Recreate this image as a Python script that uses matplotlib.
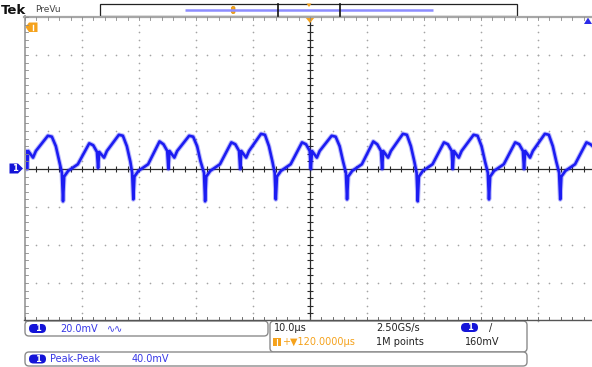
"""
Tek scope screenshot - CH1 ripple, 20 mV/div, 10 us/div
"""
import matplotlib
matplotlib.use("Agg")
import matplotlib.pyplot as plt
import numpy as np
from matplotlib.patches import FancyBboxPatch, Rectangle, Polygon

W, H = 592, 367

BLUE = "#1414d8"
TXT_BLUE = "#3636e6"
TRACE = "#1c1cf2"
ORANGE = "#f5a21c"
GRID = "#a4a4a4"
EDGE = "#a6a6a6"

# ── CH1 trace: time from left graticule edge (us), volts (mV)
t_us = [0.0, 0.16, 0.36, 0.56, 1.41, 1.91, 4.01, 4.71, 5.41, 6.01,
        6.47, 6.67, 6.87, 7.57, 9.27, 11.27, 11.97, 12.62, 12.82, 13.02, 13.87, 14.37, 16.47, 17.17, 17.87, 18.47,
        18.8, 19.0, 19.2, 19.9, 21.6, 23.6, 24.3, 24.95, 25.15, 25.35, 26.2, 26.7, 28.8, 29.5, 30.2, 30.8,
        31.4, 31.6, 31.8, 32.5, 34.2, 36.2, 36.9, 37.55, 37.75, 37.95, 38.8, 39.3, 41.4, 42.1, 42.8, 43.4,
        43.8, 44.0, 44.2, 44.9, 46.6, 48.6, 49.3, 49.95, 50.15, 50.35, 51.2, 51.7, 53.8, 54.5, 55.2, 55.8,
        56.3, 56.5, 56.7, 57.4, 59.1, 61.1, 61.8, 62.45, 62.65, 62.85, 63.7, 64.2, 66.3, 67.0, 67.7, 68.3,
        68.7, 68.9, 69.1, 69.8, 71.5, 73.5, 74.2, 74.85, 75.05, 75.25, 76.1, 76.6, 78.7, 79.4, 80.1, 80.7,
        81.2, 81.4, 81.6, 82.3, 84.0, 86.0, 86.7, 87.35, 87.55, 87.75, 88.6, 89.1, 91.2, 91.9, 92.6, 93.2,
        93.7, 93.9, 94.1, 94.8, 96.5, 98.5, 99.2, 99.6]
v_mv = [9.0, 9.5, 0.0, 9.5, 6.0, 9.5, 17.5, 17.0, 12.0, 4.0,
        -2, -17, -4, -1, 2.5, 13.5, 12.5, 9.0, 0.5, 9.0, 6.0, 9.5, 18.0, 17.5, 12.0, 4.0,
        -2, -16, -4, -1, 2.5, 14.5, 13.0, 9.5, 0.0, 9.5, 6.0, 9.5, 17.5, 17.0, 12.0, 4.0,
        -2, -17, -4, -1, 2.5, 14.0, 13.0, 9.5, 0.0, 9.5, 6.0, 9.5, 18.5, 18.0, 12.0, 4.0,
        -2, -16, -4, -1, 2.5, 14.0, 13.0, 9.5, 0.0, 9.5, 6.0, 9.5, 17.5, 17.0, 12.0, 4.0,
        -2, -16, -4, -1, 2.5, 14.5, 13.0, 9.5, 0.0, 9.5, 6.0, 9.5, 18.5, 18.0, 12.0, 4.0,
        -2, -17, -4, -1, 2.5, 14.0, 13.0, 9.5, 0.0, 9.5, 6.0, 9.5, 18.0, 17.5, 12.0, 4.0,
        -2, -16, -4, -1, 2.5, 14.0, 13.0, 9.5, 0.0, 9.5, 6.0, 9.5, 18.5, 18.0, 12.0, 4.0,
        -2, -16, -4, -1, 2.5, 14.0, 13.0, 12.0]

# scope settings shown in the readout
us_per_div = 10.0
mv_per_div = 20.0
n_xdiv, n_ydiv = 10, 8

fig = plt.figure(figsize=(W / 100, H / 100), dpi=100)
fig.patch.set_facecolor("white")

# graticule axes (right edge runs off the screenshot, as in the original)
gx0, gx1, gy0, gy1 = 25, 595, 17, 321
ax = fig.add_axes([gx0 / W, (H - gy1) / H, (gx1 - gx0) / W, (gy1 - gy0) / H])
ax.set_xlim(0, n_xdiv * us_per_div)
ax.set_ylim(-n_ydiv / 2 * mv_per_div, n_ydiv / 2 * mv_per_div)
ax.axis("off")

xmax = n_xdiv * us_per_div
ymax = n_ydiv / 2 * mv_per_div
xs_minor = np.arange(0, xmax + 0.01, us_per_div / 5)
ys_minor = np.arange(-ymax, ymax + 0.01, mv_per_div / 5)

# dotted division lines
for i in range(1, n_xdiv):
    if i == n_xdiv // 2:
        continue
    ax.plot(np.full_like(ys_minor, i * us_per_div), ys_minor, "o", ms=1.2,
            mew=0, color=GRID, clip_on=False)
for j in range(-n_ydiv // 2 + 1, n_ydiv // 2):
    if j == 0:
        continue
    ax.plot(xs_minor, np.full_like(xs_minor, j * mv_per_div), "o", ms=1.2,
            mew=0, color=GRID, clip_on=False)

# centre cross with minor ticks
ax.axhline(0, color="#2a2a2a", lw=0.9)
ax.axvline(xmax / 2, color="#2a2a2a", lw=0.9)
ax.plot(xs_minor, np.zeros_like(xs_minor), "|", ms=4, mew=0.8, color="#2a2a2a")
ax.plot(np.full_like(ys_minor, xmax / 2), ys_minor, "_", ms=4, mew=0.8, color="#2a2a2a")

# CH1 waveform (a soft halo mimics the noise band)
ax.plot(t_us, v_mv, color=TRACE, lw=3.4, alpha=0.3, solid_joinstyle="round")
ax.plot(t_us, v_mv, color=TRACE, lw=1.9, solid_joinstyle="round")

# ── overlay in pixel coordinates for the scope chrome
ov = fig.add_axes([0, 0, 1, 1], zorder=3)
ov.set_xlim(0, W)
ov.set_ylim(H, 0)
ov.axis("off")

# graticule frame
px_div = (gx1 - gx0) / n_xdiv
py_div = (gy1 - gy0) / n_ydiv
ov.plot([24, W], [16.5, 16.5], color=EDGE, lw=1.6)
ov.plot([24.5, 24.5], [16, 320], color=EDGE, lw=1.4)
ov.plot([24, W], [319.5, 319.5], color="#555555", lw=1.0)
tx = gx0 + np.arange(0, n_xdiv * 5 + 1) * px_div / 5
ty = gy0 + np.arange(0, n_ydiv * 5 + 1) * py_div / 5
for x in tx:
    ov.plot([x, x], [17, 19.5], color="#8a8a8a", lw=0.6)
    ov.plot([x, x], [316.5, 319.5], color="#555555", lw=0.6)
for y in ty:
    ov.plot([25, 27.5], [y, y], color="#8a8a8a", lw=0.6)

# header
ov.text(0.5, 10, "Tek", fontsize=9.5, fontweight="bold", color="#111111",
        va="center", ha="left")
ov.text(35, 10, "PreVu", fontsize=6.5, color="#444444", va="center", ha="left")

ov.add_patch(Rectangle((100, 4), 417, 12, fc="white", ec="#222222", lw=0.9))
ov.plot([185, 433], [10, 10], color="#8c8cff", lw=1.8, solid_capstyle="butt")
ov.plot([278, 278], [4, 16], color="#111111", lw=1.2)
ov.plot([340, 340], [4, 16], color="#111111", lw=1.2)
ov.add_patch(FancyBboxPatch((231.5, 6.5), 3.5, 7, boxstyle="round,pad=0,rounding_size=1.5",
                            fc=ORANGE, ec="#d98a00", lw=0.5))
ov.add_patch(Polygon([(306.5, 3.5), (311.5, 3.5), (309, 7)], fc=ORANGE, ec="none"))

# trigger position / trigger level markers
ov.add_patch(Polygon([(305, 17), (315, 17), (310, 23)], fc=ORANGE, ec="none"))
ov.add_patch(Polygon([(584, 24), (592, 24), (588, 17.5)], fc="#2a2ae8", ec="none"))
ov.add_patch(Polygon([(25.5, 27), (29, 22.5), (37.5, 22.5), (37.5, 32), (29, 32)],
                     fc=ORANGE, ec="none"))
ov.plot([33, 33], [24.5, 30], color="white", lw=1.0)

# CH1 ground marker
ov.add_patch(Polygon([(9.5, 163.5), (18, 163.5), (23, 168.5), (18, 173.5), (9.5, 173.5)],
                     fc=BLUE, ec="none"))
ov.text(14.5, 168.8, "1", fontsize=6, fontweight="bold", color="white",
        ha="center", va="center")


def pill(x, y):
    ov.add_patch(FancyBboxPatch((x, y), 17, 9, boxstyle="round,pad=0,rounding_size=4.5",
                                fc=BLUE, ec="none"))
    ov.text(x + 8.5, y + 4.8, "1", fontsize=6, fontweight="bold", color="white",
            ha="center", va="center")


def readout_box(x, y, w, h):
    ov.add_patch(FancyBboxPatch((x, y), w, h, boxstyle="round,pad=0,rounding_size=4",
                                fc="white", ec="#8c8c8c", lw=1.0))


fs = 7
readout_box(25, 321, 243, 15)
pill(29, 324)
ov.text(60, 329, "20.0mV", fontsize=fs, color=TXT_BLUE, va="center")
ov.text(107, 329, "∿∿", fontsize=fs, color=TXT_BLUE, va="center")

readout_box(270, 321, 257, 31)
ov.text(274, 328, "10.0µs", fontsize=fs, color="#222222", va="center")
ov.text(376, 328, "2.50GS/s", fontsize=fs, color="#222222", va="center")
pill(461, 323)
ov.text(489, 328, "/", fontsize=fs, color="#222222", va="center")
ov.add_patch(Rectangle((273, 338), 8, 8, fc=ORANGE, ec="none"))
ov.plot([277, 277], [339, 345], color="white", lw=0.8)
ov.text(282, 342, "+▼120.0000µs", fontsize=fs, color=ORANGE, va="center")
ov.text(376, 342, "1M points", fontsize=fs, color="#222222", va="center")
ov.text(465, 342, "160mV", fontsize=fs, color="#222222", va="center")

readout_box(25, 352, 502, 14)
pill(29, 354.5)
ov.text(50, 359.5, "Peak-Peak", fontsize=fs, color=TXT_BLUE, va="center")
ov.text(132, 359.5, "40.0mV", fontsize=fs, color=TXT_BLUE, va="center")

fig.savefig("out.png", dpi=100)
